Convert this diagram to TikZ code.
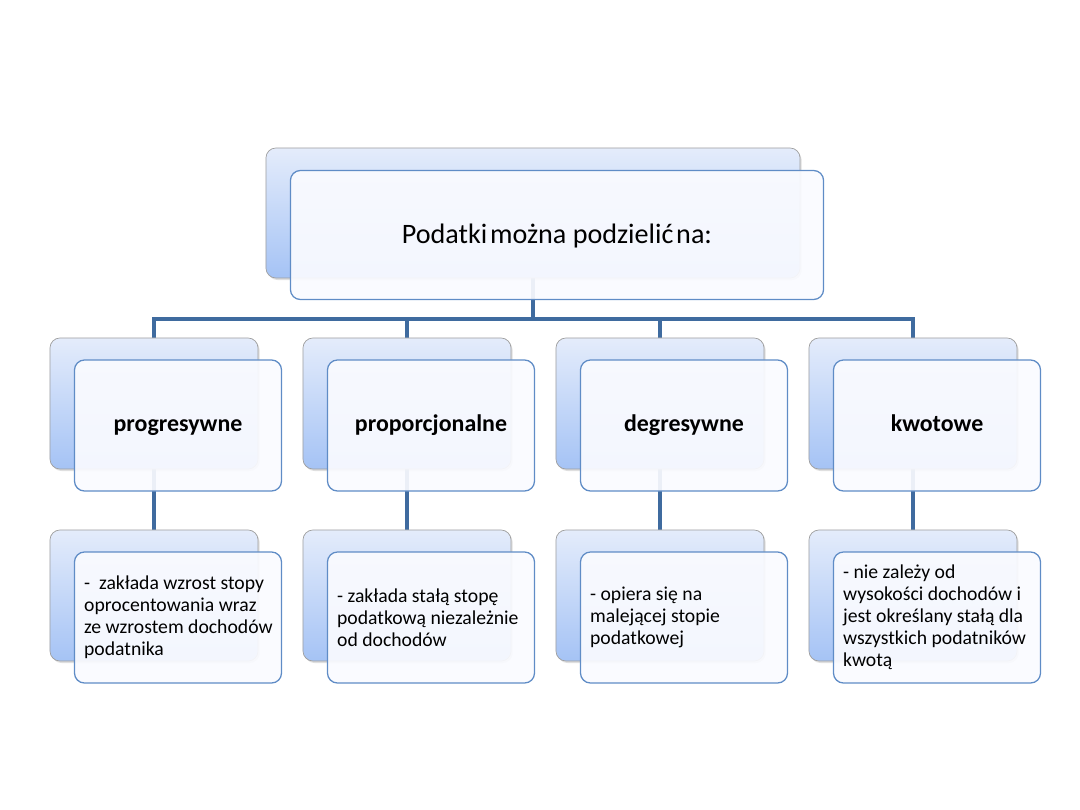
\documentclass[tikz,border=0pt]{standalone}
\usepackage{fontspec}
\setmainfont{Carlito}
\usetikzlibrary{positioning, shadows, backgrounds}

\definecolor{linkblue}{HTML}{3F6B9F}
\definecolor{frontblue}{HTML}{5F8CC6}
\definecolor{frontfill}{HTML}{FAFBFF}
\definecolor{backtop}{HTML}{E4ECFB}
\definecolor{backbot}{HTML}{A5C3F5}

\tikzset{
  backbox/.style={draw=gray!75, line width=0.5pt, rounded corners=0.25cm,
    top color=backtop, bottom color=backbot,
    drop shadow={opacity=0.25, shadow xshift=0.04cm, shadow yshift=-0.05cm},
    minimum width=5.2cm, minimum height=3.275cm, inner sep=0pt},
  frontbox/.style={draw=frontblue, line width=0.9pt, rounded corners=0.25cm,
    fill=frontfill, fill opacity=0.92, text opacity=1,
    minimum width=5.175cm, minimum height=3.275cm, inner sep=0pt},
  link/.style={linkblue, line width=2.5pt},
  title/.style={anchor=base, inner sep=0pt, font=\fontsize{17}{20}\selectfont\bfseries},
  desc/.style={align=left, inner sep=0pt, font=\fontsize{14}{15.6}\selectfont},
}

\begin{document}
\begin{tikzpicture}[x=0.025cm, y=-0.025cm]
  \useasboundingbox (0,0) rectangle (1080,810);

  % top box
  \node[backbox, minimum width=13.35cm, minimum height=3.25cm] (topb) at (533,213) {};
  \node[frontbox, minimum width=13.325cm, minimum height=3.225cm] (top)
    at ([xshift=0.6cm, yshift=-0.55cm]topb.center) {};
  \node[anchor=base, inner sep=0pt, font=\fontsize{20}{24}\selectfont] (toptext)
    at ([yshift=-0.21cm]top.center)
    {Podatki\hspace{0.1em}można podzielić\hspace{0.1em}na:};
  \coordinate (bus) at (533,319);

  % middle and bottom rows
  \foreach \i/\x/\name in {1/154/progresywne, 2/407/proporcjonalne,
                           3/660/degresywne, 4/913/kwotowe} {
    \node[backbox] (m\i b) at (\x,403.5) {};
    \node[frontbox] (m\i) at ([xshift=0.6cm, yshift=-0.55cm]m\i b.center) {};
    \node[title] (t\i) at ([yshift=-0.16cm]m\i.center) {\name};
    \node[backbox] (b\i b) at (\x,595.5) {};
    \node[frontbox] (b\i) at ([xshift=0.6cm, yshift=-0.55cm]b\i b.center) {};
  }

  % descriptions
  \node[desc, anchor=west] (d1) at ([xshift=0.25cm]b1.west)
    {-\ \ zakłada wzrost stopy\\oprocentowania wraz\\ze wzrostem dochodów\\podatnika};
  \node[desc, anchor=west] (d2) at ([xshift=0.25cm]b2.west)
    {- zakłada stałą stopę\\podatkową niezależnie\\od dochodów};
  \node[desc, anchor=west] (d3) at ([xshift=0.25cm]b3.west)
    {- opiera się na\\malejącej stopie\\podatkowej};
  \node[desc, anchor=west] (d4) at ([xshift=0.25cm]b4.west)
    {- nie zależy od\\wysokości dochodów i\\jest określany stałą dla\\wszystkich podatników\\kwotą};

  % connectors
  \begin{pgfonlayer}{background}
    \draw[link] (topb.south) -- (bus);
    \foreach \i in {1,...,4} {
      \draw[link] (bus) -| (m\i b.north);
      \draw[link] (m\i b.south) -- (b\i b.north);
    }
  \end{pgfonlayer}
\end{tikzpicture}
\end{document}
